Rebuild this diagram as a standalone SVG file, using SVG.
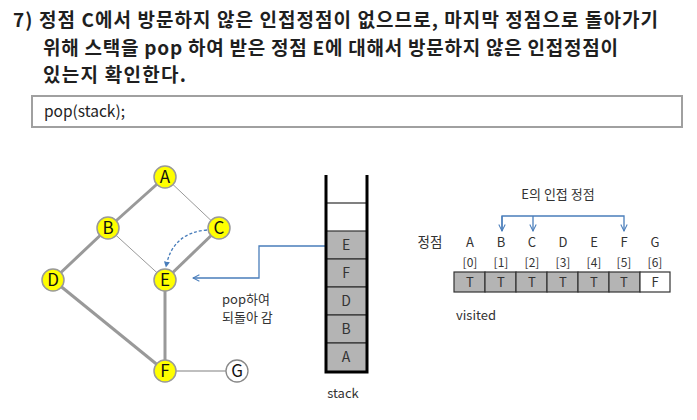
<svg xmlns="http://www.w3.org/2000/svg" width="697" height="420" viewBox="0 0 697 420">
<style>
text{font-family:"Noto Sans CJK KR","Noto Sans",sans-serif;fill:#262626}
.h{font-size:19px;font-weight:bold;fill:#1f1f1f}
.nl{font-size:17px;text-anchor:middle;fill:#111}
.sl{font-size:14px;text-anchor:middle;fill:#333}
.al{font-size:13px;text-anchor:middle;fill:#333}
.il{font-size:12px;text-anchor:middle;fill:#333}
.tk{stroke:#999;stroke-width:3;fill:none}
.tn{stroke:#999;stroke-width:1;fill:none}
.nd{fill:#ffff00;stroke:#999;stroke-width:1.5}
.bl{stroke:#4a7ebb;stroke-width:1.3;fill:none}
.cell{fill:#b4b4b4;stroke:#333;stroke-width:1.2}
</style>
<defs>
<marker id="open" viewBox="0 0 10 10" refX="9" refY="5" markerWidth="8" markerHeight="8" orient="auto" markerUnits="userSpaceOnUse">
<path d="M1,1 L9,5 L1,9" fill="none" stroke="#4a7ebb" stroke-width="1.3"/>
</marker>
<marker id="fill" viewBox="0 0 10 10" refX="9" refY="5" markerWidth="6" markerHeight="6" orient="auto" markerUnits="userSpaceOnUse">
<path d="M0,0 L10,5 L0,10 Z" fill="#4a7ebb"/>
</marker>
</defs>

<g id="header">
<text class="h" x="13" y="27" textLength="645" lengthAdjust="spacing">7) 정점 C에서 방문하지 않은 인접정점이 없으므로, 마지막 정점으로 돌아가기</text>
<text class="h" x="43" y="55" textLength="575" lengthAdjust="spacing">위해 스택을 pop 하여 받은 정점 E에 대해서 방문하지 않은 인접정점이</text>
<text class="h" x="43" y="82" textLength="143" lengthAdjust="spacing">있는지 확인한다.</text>
</g>

<g id="code">
<rect x="32" y="96" width="650" height="31" fill="#fff" stroke="#a0a0a0" stroke-width="2"/>
<text x="44" y="117" style="font-size:15.5px;fill:#222">pop(stack);</text>
</g>

<g id="connectors">
<line class="tk" x1="165" y1="177" x2="108" y2="228"/>
<line class="tn" x1="165" y1="177" x2="219" y2="228"/>
<line class="tk" x1="108" y1="228" x2="53" y2="280"/>
<line class="tn" x1="108" y1="228" x2="165" y2="280"/>
<line class="tk" x1="219" y1="228" x2="165" y2="280"/>
<line class="tk" x1="53" y1="280" x2="165" y2="371"/>
<line class="tk" x1="165" y1="280" x2="165" y2="371"/>
<line x1="165" y1="371" x2="237" y2="371" stroke="#aaa" stroke-width="1.3"/>
<path class="bl" d="M207,230 Q172,233 166,267" stroke-dasharray="3,2" stroke-width="1.1" marker-end="url(#fill)"/>
<polyline class="bl" points="326,246 259,246 259,278 193,278" marker-end="url(#open)"/>
<polyline class="bl" points="502,231 502,216 624,216 624,231" marker-end="url(#open)"/>
<line class="bl" x1="502" y1="216" x2="502" y2="231" marker-end="url(#open)"/>
<line class="bl" x1="533" y1="216" x2="533" y2="231" marker-end="url(#open)"/>
</g>

<g id="nodeA"><circle class="nd" cx="165" cy="177" r="11"/><text class="nl" x="165" y="183">A</text></g>
<g id="nodeB"><circle class="nd" cx="108" cy="228" r="11"/><text class="nl" x="108" y="234">B</text></g>
<g id="nodeC"><circle class="nd" cx="219" cy="228" r="11"/><text class="nl" x="219" y="234">C</text></g>
<g id="nodeD"><circle class="nd" cx="53" cy="280" r="11"/><text class="nl" x="53" y="286">D</text></g>
<g id="nodeE"><circle class="nd" cx="165" cy="280" r="11"/><text class="nl" x="165" y="286">E</text></g>
<g id="nodeF"><circle class="nd" cx="165" cy="371" r="11"/><text class="nl" x="165" y="377">F</text></g>
<g id="nodeG"><circle cx="237" cy="371" r="11" fill="#fff" stroke="#888" stroke-width="1.3"/><text class="nl" x="237" y="377">G</text></g>

<g id="poplabel">
<text x="222" y="304" style="font-size:13px;fill:#333">pop하여</text>
<text x="222" y="322" style="font-size:13px;fill:#333">되돌아 감</text>
</g>

<g id="stack">
<rect class="cell" x="326" y="231" width="41" height="28"/>
<rect class="cell" x="326" y="259" width="41" height="28"/>
<rect class="cell" x="326" y="287" width="41" height="28"/>
<rect class="cell" x="326" y="315" width="41" height="28"/>
<rect class="cell" x="326" y="343" width="41" height="29"/>
<line x1="326" y1="203" x2="367" y2="203" stroke="#808080" stroke-width="2"/>
<polyline points="326,175 326,372 367,372 367,175" fill="none" stroke="#000" stroke-width="3"/>
<text class="sl" x="346" y="250">E</text>
<text class="sl" x="346" y="278">F</text>
<text class="sl" x="346" y="306">D</text>
<text class="sl" x="346" y="334">B</text>
<text class="sl" x="346" y="362">A</text>
<text x="343" y="398" style="font-size:13px;text-anchor:middle;fill:#333">stack</text>
</g>

<g id="visited">
<text x="558" y="199" style="font-size:13px;text-anchor:middle;fill:#333">E의 인접 정점</text>
<text x="430" y="247" style="font-size:13.5px;text-anchor:middle;fill:#333">정점</text>
<text class="al" x="470" y="247">A</text>
<text class="al" x="501" y="247">B</text>
<text class="al" x="532" y="247">C</text>
<text class="al" x="563" y="247">D</text>
<text class="al" x="594" y="247">E</text>
<text class="al" x="624" y="247">F</text>
<text class="al" x="655" y="247">G</text>
<text class="il" x="470" y="267">[0]</text>
<text class="il" x="501" y="267">[1]</text>
<text class="il" x="532" y="267">[2]</text>
<text class="il" x="563" y="267">[3]</text>
<text class="il" x="594" y="267">[4]</text>
<text class="il" x="624" y="267">[5]</text>
<text class="il" x="655" y="267">[6]</text>
<rect class="cell" x="454" y="272" width="31" height="20"/>
<rect class="cell" x="485" y="272" width="31" height="20"/>
<rect class="cell" x="516" y="272" width="31" height="20"/>
<rect class="cell" x="547" y="272" width="31" height="20"/>
<rect class="cell" x="578" y="272" width="31" height="20"/>
<rect class="cell" x="609" y="272" width="31" height="20"/>
<rect x="640" y="272" width="30" height="20" fill="#fff" stroke="#333" stroke-width="1.2"/>
<text class="al" x="470" y="287">T</text>
<text class="al" x="501" y="287">T</text>
<text class="al" x="532" y="287">T</text>
<text class="al" x="563" y="287">T</text>
<text class="al" x="594" y="287">T</text>
<text class="al" x="624" y="287">T</text>
<text class="al" x="655" y="287">F</text>
<text x="456" y="320" style="font-size:13px;fill:#333">visited</text>
</g>
</svg>
